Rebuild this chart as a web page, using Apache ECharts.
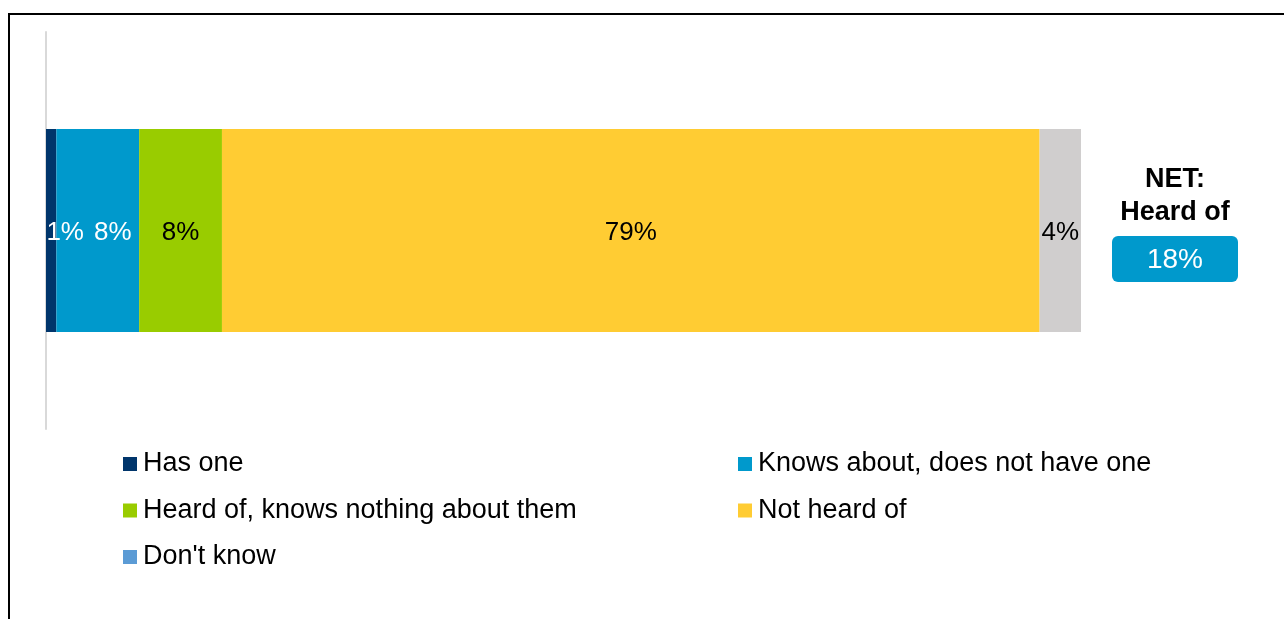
<!DOCTYPE html>
<html>
<head>
<meta charset="utf-8">
<style>
  html, body { margin: 0; padding: 0; background: #fff; }
  #chart { width: 1284px; height: 619px; }
</style>
<script src="https://cdn.jsdelivr.net/npm/echarts@6/dist/echarts.min.js"></script>
</head>
<body>
<div id="chart"></div>
<script>
// Awareness breakdown (percent of respondents), one stacked bar
const categories = [''];
const seriesNames = [
  'Has one',
  'Knows about, does not have one',
  'Heard of, knows nothing about them',
  'Not heard of',
  "Don't know"
];
const hasOne = [1];
const knowsAbout = [8];
const heardOfOnly = [8];
const notHeardOf = [79];
const dontKnow = [4];
const netHeardOf = 18;

const seriesValues = [hasOne, knowsAbout, heardOfOnly, notHeardOf, dontKnow];
const barColors = ['#00356B', '#0099CC', '#99CC00', '#FFCC33', '#D0CECE'];
const legendColors = ['#00356B', '#0099CC', '#99CC00', '#FFCC33', '#5B9BD5'];
const labelColors = ['#ffffff', '#ffffff', '#000000', '#000000', '#000000'];
const labelOffsets = [[14, 2], [15, 2], [0, 2], [0, 2], [0, 2]];

const FONT = '"Liberation Sans", Arial, sans-serif';

const series = seriesNames.map((name, i) => ({
  name: name,
  type: 'bar',
  stack: 'total',
  barWidth: 203,
  itemStyle: { color: legendColors[i] },
  label: {
    show: true,
    position: 'inside',
    offset: labelOffsets[i],
    formatter: '{c}%',
    color: labelColors[i],
    fontFamily: FONT,
    fontSize: 26
  },
  emphasis: { disabled: true },
  data: seriesValues[i].map(v => ({ value: v, itemStyle: { color: barColors[i] } }))
}));

const legendBase = {
  orient: 'vertical',
  top: 449,
  padding: 0,
  itemWidth: 16,
  itemHeight: 14,
  itemGap: 16.5,
  icon: 'path://M0,0H14V14H0Z',
  textStyle: { fontFamily: FONT, fontSize: 27, color: '#000', lineHeight: 30 }
};

const chart = echarts.init(document.getElementById('chart'), null, { renderer: 'canvas' });
chart.setOption({
  animation: false,
  backgroundColor: '#ffffff',
  grid: { left: 46, right: 203, top: 32, bottom: 190 },
  xAxis: {
    type: 'value', min: 0, max: 100, show: false
  },
  yAxis: {
    type: 'category',
    data: categories,
    axisLine: { show: true, lineStyle: { color: '#d9d9d9', width: 2 } },
    axisTick: { show: false },
    axisLabel: { show: false }
  },
  legend: [
    Object.assign({}, legendBase, { left: 123, data: [seriesNames[0], seriesNames[2], seriesNames[4]] }),
    Object.assign({}, legendBase, { left: 738, data: [seriesNames[1], seriesNames[3]] })
  ],
  series: series,
  graphic: [
    {
      type: 'rect', silent: true,
      shape: { x: 9, y: 14, width: 1400, height: 800 },
      style: { fill: 'none', stroke: '#000', lineWidth: 2 }
    },
    {
      type: 'text', silent: true, x: 1175, y: 180,
      style: { text: 'NET:', fontFamily: FONT, fontSize: 27, fontWeight: 'bold', fill: '#000', align: 'center', verticalAlign: 'middle' }
    },
    {
      type: 'text', silent: true, x: 1175, y: 213,
      style: { text: 'Heard of', fontFamily: FONT, fontSize: 27, fontWeight: 'bold', fill: '#000', align: 'center', verticalAlign: 'middle' }
    },
    {
      type: 'rect', silent: true,
      shape: { x: 1112, y: 236, width: 126, height: 46, r: 6 },
      style: { fill: '#0099CC' }
    },
    {
      type: 'text', silent: true, x: 1175, y: 260,
      style: { text: netHeardOf + '%', fontFamily: FONT, fontSize: 28, fill: '#fff', align: 'center', verticalAlign: 'middle' }
    }
  ]
});
</script>
</body>
</html>
